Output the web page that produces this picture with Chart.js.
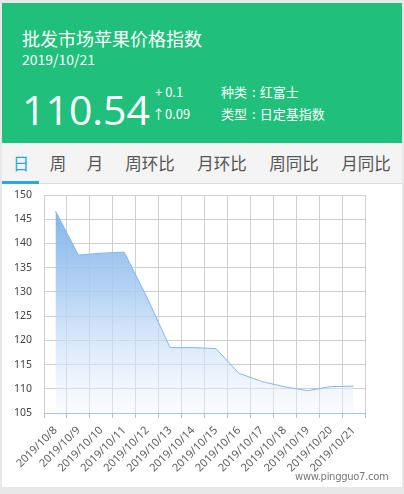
<!DOCTYPE html>
<html>
<head>
<meta charset="utf-8">
<script src="https://cdn.jsdelivr.net/npm/chart.js@4/dist/chart.umd.min.js"></script>
<style>
  html, body { margin: 0; padding: 0; }
  body { width: 404px; height: 494px; background: #e8e8e8; position: relative; overflow: hidden;
         font-family: "Microsoft YaHei", "Noto Sans CJK SC", sans-serif; }
  .card { position: absolute; left: 2px; top: 3px; width: 400px; height: 484px; background: #fff; }
  .head { position: absolute; left: 0; top: 0; width: 400px; height: 140px; background: #20c07c; color: #fff; }
  .title { position: absolute; left: 20px; top: 22px; font-size: 18px; }
  .date { position: absolute; left: 20px; top: 46px; font-size: 14px; }
  .big { position: absolute; left: 20px; top: 78px; font-size: 41px; font-family: "Open Sans", "Noto Sans", sans-serif; }
  .chg1 { position: absolute; left: 153px; top: 79px; font-size: 13px; }
  .chg2 { position: absolute; left: 150px; top: 101px; font-size: 13px; }
  .kind { position: absolute; left: 219px; top: 79px; font-size: 13px; white-space: nowrap; }
  .type { position: absolute; left: 219px; top: 101px; font-size: 13px; white-space: nowrap; }
  .kind span, .type span { margin: 0 4px 0 5px; }
  .tabs { position: absolute; left: 0; top: 140px; width: 400px; height: 40px; background: #f4f4f4; border-bottom: 1px solid #dcdcdc; }
  .tab { position: absolute; top: 8px; font-size: 16.5px; color: #555; transform: translateX(-50%); white-space: nowrap; }
  .tab.on { color: #2aa6e0; }
  .bar { position: absolute; left: 0; top: 38px; width: 37px; height: 3px; background: #2aa6e0; }
  #wrap { position: absolute; left: 0; top: 181px; width: 400px; height: 303px; }
  .mark { position: absolute; left: 295px; top: 471px; font-size: 10px; color: #777; font-family: "DejaVu Sans", sans-serif; letter-spacing: -0.3px; }
</style>
</head>
<body>
<div class="card">
  <div class="head">
    <div class="title">批发市场苹果价格指数</div>
    <div class="date">2019/10/21</div>
    <div class="big">110.54</div>
    <div class="chg1">+ 0.1</div>
    <div class="chg2">↑0.09</div>
    <div class="kind">种类<span>:</span>红富士</div>
    <div class="type">类型<span>:</span>日定基指数</div>
  </div>
  <div class="tabs">
    <div class="tab on" style="left:19px">日</div>
    <div class="tab" style="left:56px">周</div>
    <div class="tab" style="left:93px">月</div>
    <div class="tab" style="left:148px">周环比</div>
    <div class="tab" style="left:220px">月环比</div>
    <div class="tab" style="left:292px">周同比</div>
    <div class="tab" style="left:364px">月同比</div>
    <div class="bar"></div>
  </div>
  <div id="wrap"><canvas id="appleChart"></canvas></div>
</div>
<div class="mark">www.pingguo7.com</div>

<script>
// Chart data
const dates = ['2019/10/8', '2019/10/9', '2019/10/10', '2019/10/11', '2019/10/12', '2019/10/13', '2019/10/14',
               '2019/10/15', '2019/10/16', '2019/10/17', '2019/10/18', '2019/10/19', '2019/10/20', '2019/10/21'];
const indexValues = [146.7, 137.6, 138.0, 138.2, 128.8, 118.5, 118.5,
                     118.3, 113.2, 111.5, 110.4, 109.6, 110.45, 110.54];
const yMin = 105;
const yMax = 150;
const yStep = 5;

// Function to initialize the chart
function initChart() {
    const ctx = document.getElementById('appleChart').getContext('2d');
    new Chart(ctx, {
        type: 'line',
        data: {
            labels: dates,
            datasets: [{
                data: indexValues,
                borderColor: '#86b6ea',
                borderWidth: 1,
                pointRadius: 0,
                tension: 0,
                fill: 'start',
                backgroundColor: (c) => {
                    const area = c.chart.chartArea;
                    if (!area) return 'rgba(126,179,234,0.5)';
                    const g = c.chart.ctx.createLinearGradient(0, area.top, 0, area.bottom);
                    g.addColorStop(0, 'rgba(118,174,234,1)');
                    g.addColorStop(0.45, 'rgba(170,204,242,0.85)');
                    g.addColorStop(1, 'rgba(240,246,255,0.4)');
                    return g;
                }
            }]
        },
        options: {
            responsive: true,
            maintainAspectRatio: false,
            animation: false,
            layout: { padding: { top: 11, right: 37, bottom: 0, left: 0 } },
            plugins: { legend: { display: false }, tooltip: { enabled: false } },
            scales: {
                x: {
                    offset: true,
                    grid: { offset: true, color: '#cfcfcf', tickColor: '#a9c3e2', tickLength: 5 },
                    border: { color: '#a9c3e2' },
                    ticks: {
                        autoSkip: false, minRotation: 45, maxRotation: 45, padding: 6,
                        color: '#5a5a5a', font: { family: 'Noto Sans', size: 11 }
                    },
                    afterFit: (s) => { s.height = 74; }
                },
                y: {
                    min: yMin, max: yMax,
                    grid: { color: '#cfcfcf', drawTicks: false },
                    border: { display: false },
                    ticks: {
                        stepSize: yStep, padding: 12,
                        color: '#444', font: { family: 'Noto Sans', size: 10.5 }
                    },
                    afterFit: (s) => { s.width = 42; s.paddingTop = 0; s.paddingBottom = 0; }
                }
            }
        }
    });
}

initChart();
</script>
</body>
</html>
